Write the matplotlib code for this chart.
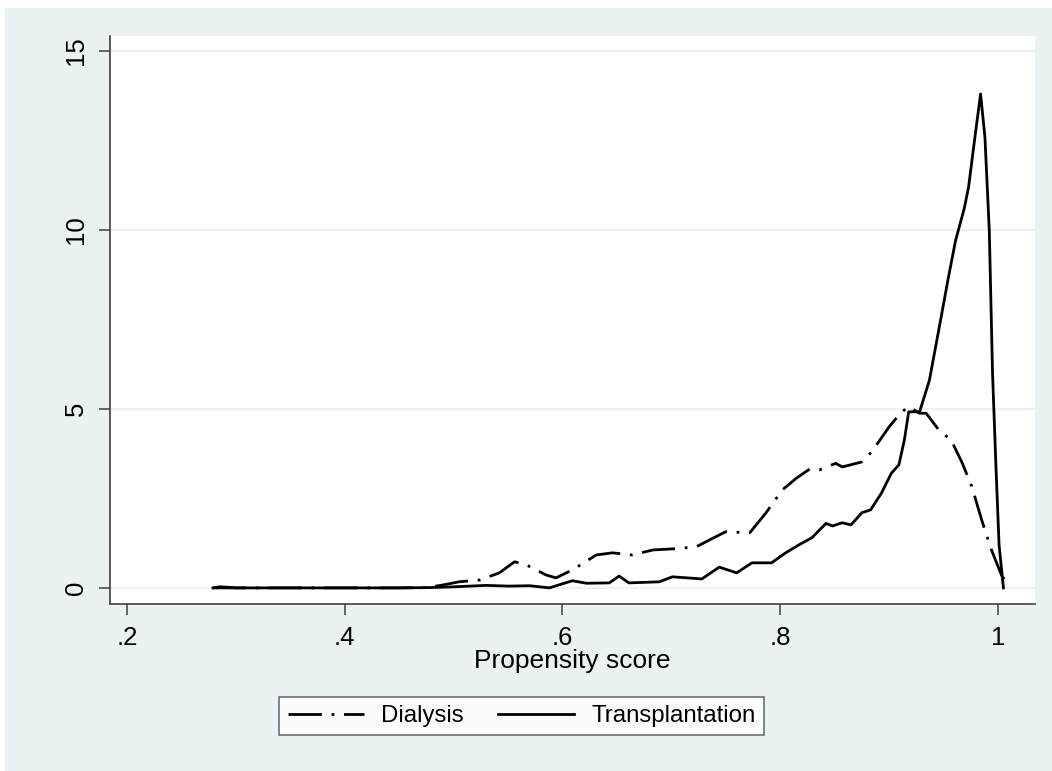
import numpy as np
import matplotlib.pyplot as plt
from matplotlib.patches import Rectangle

plt.rcParams['font.family'] = ['Liberation Sans', 'DejaVu Sans']

# kernel density estimates
x_dial = [0.279, 0.30, 0.35, 0.40, 0.45, 0.475, 0.49, 0.505, 0.524, 0.542, 0.556, 0.567,
          0.585, 0.594, 0.609, 0.631, 0.646, 0.664, 0.683, 0.707, 0.723, 0.735, 0.750,
          0.772, 0.787, 0.802, 0.815, 0.827, 0.836, 0.851, 0.857, 0.875, 0.884, 0.900,
          0.911, 0.918, 0.928, 0.934, 0.946, 0.957, 0.967, 0.976, 0.985, 0.994, 1.004, 1.012]
y_dial = [0.0, 0.0, 0.0, 0.0, 0.0, 0.01, 0.08, 0.17, 0.22, 0.42, 0.73, 0.64,
          0.36, 0.28, 0.50, 0.92, 0.98, 0.92, 1.06, 1.10, 1.15, 1.34, 1.57,
          1.54, 2.10, 2.74, 3.07, 3.32, 3.30, 3.48, 3.38, 3.52, 3.80, 4.50,
          4.90, 5.06, 4.88, 4.88, 4.40, 4.13, 3.50, 2.83, 1.90, 1.06, 0.30, 0.08]

x_trans = [0.279, 0.285, 0.292, 0.30, 0.35, 0.40, 0.45, 0.48, 0.50, 0.53, 0.55, 0.57,
           0.588, 0.609, 0.622, 0.643, 0.652, 0.661, 0.689, 0.701, 0.728, 0.744, 0.760,
           0.774, 0.792, 0.805, 0.817, 0.829, 0.842, 0.848, 0.857, 0.865, 0.875, 0.883,
           0.893, 0.902, 0.909, 0.914, 0.918, 0.928, 0.937, 0.948, 0.954, 0.961, 0.969,
           0.973, 0.978, 0.984, 0.988, 0.992, 0.995, 0.998, 1.001, 1.005]
y_trans = [0.0, 0.03, 0.02, 0.0, 0.0, 0.0, 0.0, 0.01, 0.03, 0.07, 0.05, 0.06,
           0.0, 0.20, 0.13, 0.14, 0.33, 0.14, 0.17, 0.31, 0.25, 0.58, 0.42,
           0.70, 0.70, 0.98, 1.20, 1.40, 1.80, 1.73, 1.82, 1.76, 2.10, 2.18,
           2.65, 3.20, 3.44, 4.13, 4.92, 4.92, 5.80, 7.60, 8.60, 9.70, 10.6,
           11.2, 12.4, 13.8, 12.6, 10.0, 6.0, 3.5, 1.2, 0.0]

x_ticks = [0.2, 0.4, 0.6, 0.8, 1.0]
x_ticklabels = ['.2', '.4', '.6', '.8', '1']
y_ticks = [0, 5, 10, 15]

bg = '#eaf2f3'
fig = plt.figure(figsize=(10.52, 7.71), dpi=100, facecolor='white')
fig.patches.append(Rectangle((5 / 1052, 0), 1, 1 - 8 / 771,
                             transform=fig.transFigure, facecolor=bg, edgecolor='none', zorder=-10))

ax = fig.add_axes([110 / 1052, 1 - 604 / 771, 925 / 1052, 568 / 771])
ax.set_facecolor('white')

dashdot = (0, (12, 3.5, 1, 3.5))
ax.plot(x_dial, y_dial, color='black', lw=2.0, linestyle=dashdot, label='Dialysis')
ax.plot(x_trans, y_trans, color='black', lw=2.0, linestyle='-', label='Transplantation')

ax.set_xlim(0.1844, 1.034)
ax.set_ylim(-0.45, 15.42)
ax.set_xticks(x_ticks)
ax.set_xticklabels(x_ticklabels)
ax.set_yticks(y_ticks)
ax.set_yticklabels([str(v) for v in y_ticks], rotation=90, va='center')
ax.grid(axis='y', color=bg, lw=1.5)
ax.set_axisbelow(True)

for s in ['top', 'right']:
    ax.spines[s].set_visible(False)
for s in ['left', 'bottom']:
    ax.spines[s].set_color('#404040')
    ax.spines[s].set_linewidth(1.2)
ax.tick_params(axis='both', length=8, width=1.1, color='#404040', labelsize=18.5, pad=8)
ax.set_xlabel('Propensity score', fontsize=19, labelpad=-1)

leg = fig.legend(loc='center', bbox_to_anchor=(521.5 / 1052, 1 - 716 / 771), ncol=2,
                 fontsize=17.3, frameon=True, fancybox=False, handlelength=3.2,
                 columnspacing=1.4, handletextpad=0.7, borderpad=0.35)
leg.get_frame().set_edgecolor('#404040')
leg.get_frame().set_linewidth(1.1)

fig.savefig('out.png', dpi=100, facecolor='white')
